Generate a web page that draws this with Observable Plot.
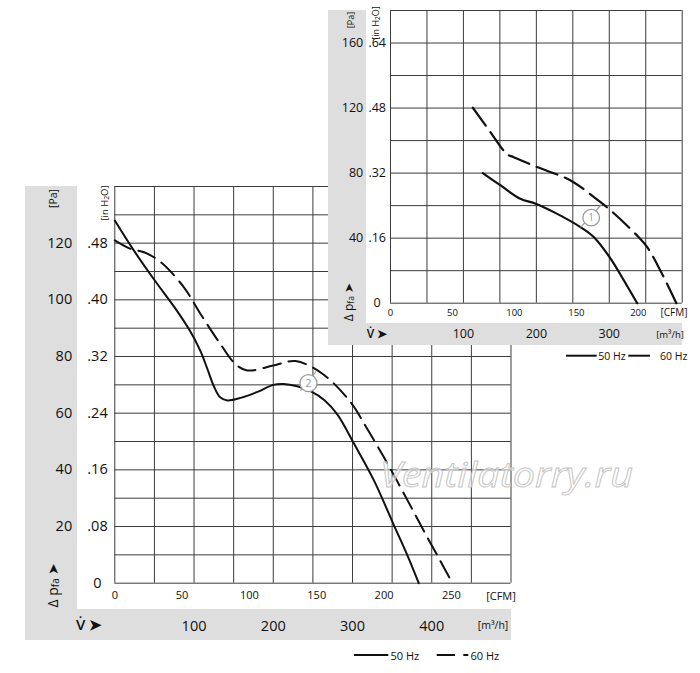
<!DOCTYPE html>
<html><head><meta charset="utf-8">
<script src="https://cdn.jsdelivr.net/npm/d3@7"></script>
<script src="https://cdn.jsdelivr.net/npm/@observablehq/plot@0.6"></script>
<style>
body{margin:0;background:#fff;}
#root{position:relative;width:700px;height:673px;overflow:hidden;font-family:"Open Sans",sans-serif;}
.box{position:absolute;}
</style></head><body><div id="root"></div>
<script>
const M3H_PER_CFM = 1.699;
const seriesNames = ["50 Hz", "60 Hz"];

// ---- main chart (big) : [flow m³/h, pressure Pa]
const main50 = [[0,128],[25,117],[50,107],[75,97.5],[95,89],[108,82],[117,75.5],[125,69.5],[133,65.6],[142,64.5],[160,65.5],[180,67.5],[200,70],[213,70.3],[230,69.5],[247,67.8],[265,64.5],[281,59.5],[302,49.2],[327,36.3],[352,20.6],[369,10],[383.6,0]];
const main60 = [[0,121],[20,118],[37,116.8],[58,113.3],[87,104.5],[108,95.1],[133,84.5],[152,77.4],[167,75.1],[200,76.8],[228,78.4],[262,73.9],[297.5,63.9],[318.5,54.5],[339.5,44.5],[356,36.2],[377,25.3],[394,16.4],[411,7.8],[426,0]];
const mainGridFlow = d3.range(0, 501, 50);
const mainGridPa = d3.range(0, 141, 10);
const mainPaTicks = [20, 40, 60, 80, 100, 120];
const mainInH2OTicks = [0, 20, 40, 60, 80, 100, 120];
const mainInH2OLabels = ["0", ".08", ".16", ".24", ".32", ".40", ".48"];
const mainCfmTicks = [0, 50, 100, 150, 200, 250];
const mainM3hTicks = [100, 200, 300, 400];
const mainBadge = [{label:"2", x:244.4, y:70.6, x1:234.4, y1:68.0, x2:253.9, y2:74.7}];

// ---- inset chart (small)
const inset50 = [[126.6,80],[151,72.4],[178,64.2],[199,61.2],[224,56],[260.5,46.8],[279,40.6],[302,27.3],[320,14],[338.3,0]];
const inset60 = [[112.9,120.2],[137,105.2],[153,95],[160,91.5],[169,89.8],[201,83.7],[247,75.5],[279,65.2],[302,57],[338,41.7],[352,34.5],[370,20.1],[392,0]];
const insetGridFlow = d3.range(0, 401, 50);
const insetGridPa = d3.range(0, 181, 20);
const insetPaTicks = [40, 80, 120, 160];
const insetInH2OTicks = [0, 40, 80, 120, 160];
const insetInH2OLabels = ["0", ".16", ".32", ".48", ".64"];
const insetCfmTicks = [0, 50, 100, 150, 200];
const insetM3hTicks = [100, 200, 300];
const insetBadge = [{label:"1", x:275.2, y:52.6, x1:260.6, y1:46.6, x2:289.4, y2:60.7}];

const root = document.getElementById("root");
const FONT = "Open Sans, sans-serif";
const GREY = "#dedede";

function box(x, y, w, h, color) {
  const d = document.createElement("div");
  d.className = "box";
  Object.assign(d.style, {left:x+"px", top:y+"px", width:w+"px", height:h+"px", background:color});
  root.appendChild(d);
}
function overlay() {
  return d3.select(root).append("svg").attr("width",700).attr("height",673)
    .style("position","absolute").style("left","0px").style("top","0px");
}
function label(s, x, y, parts, {size=11, rotate=0, anchor="middle", weight=400, fill="#111"}={}) {
  const t = s.append("text").attr("transform",`translate(${x},${y}) rotate(${rotate})`)
    .attr("text-anchor",anchor).attr("dominant-baseline","central")
    .attr("font-size",size).attr("font-family",FONT).attr("font-weight",weight).attr("fill",fill);
  for (const p of parts) {
    const sp = t.append("tspan").text(p.t);
    if (p.sub) sp.attr("font-size", size*0.72).attr("dy", size*0.22);
    if (p.back) sp.attr("dy", -size*0.22);
  }
  return t;
}
function chart(o) {
  return Plot.plot({
    width:700, height:673,
    marginLeft:o.ml, marginRight:o.mr, marginTop:o.mt, marginBottom:o.mb,
    x:{domain:o.xd}, y:{domain:o.yd},
    style:{background:"transparent", fontFamily:FONT, color:"#111"},
    marks:[
      Plot.ruleX(o.gx, {stroke:"#3c3c3c", strokeWidth:1}),
      Plot.ruleY(o.gy, {stroke:"#3c3c3c", strokeWidth:1}),
      Plot.line(o.s50, {x:d=>d[0], y:d=>d[1], curve:"catmull-rom", stroke:"#111", strokeWidth:o.lw}),
      Plot.line(o.s60, {x:d=>d[0], y:d=>d[1], curve:"catmull-rom", stroke:"#111", strokeWidth:o.lw, strokeDasharray:o.dash}),
      Plot.link(o.badge, {x1:"x1", y1:"y1", x2:"x2", y2:"y2", stroke:"#9a9a9a", strokeWidth:1.2}),
      Plot.dot(o.badge, {x:"x", y:"y", r:o.br, fill:"white", stroke:"#9a9a9a", strokeWidth:1.3}),
      Plot.text(o.badge, {x:"x", y:"y", text:"label", fill:"#9a9a9a", fontSize:o.bf}),
      Plot.axisY(o.pa, {anchor:"left", tickSize:0, tickPadding:o.paPad, fontSize:o.fs, label:null}),
      Plot.text(o.inh.map((v,i)=>({pa:v, t:o.inhL[i]})), {y:"pa", text:"t", frameAnchor:"left", dx:-o.inhPad, textAnchor:"middle", fontSize:o.fs}),
      Plot.axisX(o.cfm.map(c=>c*M3H_PER_CFM), {anchor:"bottom", tickSize:0, tickPadding:o.cfmPad, fontSize:o.cfs, label:null,
        tickFormat:d=>String(Math.round(d/M3H_PER_CFM))}),
      Plot.axisX(o.m3h, {anchor:"bottom", tickSize:0, tickPadding:o.m3hPad, fontSize:o.fs, label:null})
    ]
  });
}

// ---------- MAIN ----------
box(25, 186, 52, 454, GREY);
box(25, 609, 485.5, 31, GREY);
const mainSvg = chart({ml:114.3, mr:189.5, mt:186, mb:90.3, xd:[0,500], yd:[0,140],
  gx:mainGridFlow, gy:mainGridPa, s50:main50, s60:main60, lw:2, dash:"18,8",
  badge:mainBadge, br:8.5, bf:11,
  pa:mainPaTicks, paPad:42.6, fs:14.5, inh:mainInH2OTicks, inhL:mainInH2OLabels, inhPad:17.3,
  cfm:mainCfmTicks, cfmPad:8.4, cfs:11, m3h:mainM3hTicks, m3hPad:37.2});
Object.assign(mainSvg.style, {position:"absolute", left:"0px", top:"0px"});
root.appendChild(mainSvg);

const mo = overlay();
label(mo, 53.3, 198.5, [{t:"[Pa]"}], {size:10.5, rotate:-90});
label(mo, 103.5, 203, [{t:"[in H"},{t:"2",sub:true},{t:"O]",back:true}], {size:9.5, rotate:-90});
label(mo, 51.5, 585, [{t:"Δ p"},{t:"fa",sub:true},{t:" ➤",back:true}], {size:14, rotate:-90});
label(mo, 89, 624, [{t:"V̇ ➤"}], {size:15, weight:600});
label(mo, 501, 595, [{t:"[CFM]"}], {size:11});
label(mo, 493, 625, [{t:"[m³/h]"}], {size:10.5});
// legend
mo.append("line").attr("x1",354).attr("x2",388.3).attr("y1",655).attr("y2",655).attr("stroke","#111").attr("stroke-width",2);
label(mo, 390.5, 655, [{t:seriesNames[0]}], {size:11, anchor:"start"});
mo.append("line").attr("x1",436.7).attr("x2",468.3).attr("y1",655).attr("y2",655).attr("stroke","#111").attr("stroke-width",2).attr("stroke-dasharray","18.3,8.3");
label(mo, 470.5, 655, [{t:seriesNames[1]}], {size:11, anchor:"start"});
// watermark
mo.append("text").attr("x",380).attr("y",487).attr("font-family",FONT).attr("font-style","italic")
  .attr("font-size",35).attr("textLength",253).attr("lengthAdjust","spacingAndGlyphs")
  .attr("fill","white").attr("fill-opacity",0.55).attr("stroke","#c4c4c4").attr("stroke-width",0.9)
  .text("Ventilatorry.ru");

// ---------- INSET ----------
box(328, 10, 354, 335, "#ffffff");
box(328, 10, 38, 335, GREY);
box(328, 322.7, 354, 22.3, GREY);
const insetSvg = chart({ml:390, mr:18.3, mt:10, mb:370.3, xd:[0,400], yd:[0,180],
  gx:insetGridFlow, gy:insetGridPa, s50:inset50, s60:inset60, lw:2.2, dash:"22,8",
  badge:insetBadge, br:8.3, bf:10,
  pa:insetPaTicks, paPad:27.3, fs:12.5, inh:insetInH2OTicks, inhL:insetInH2OLabels, inhPad:13.3,
  cfm:insetCfmTicks, cfmPad:5.9, cfs:9.5, m3h:insetM3hTicks, m3hPad:25.9});
Object.assign(insetSvg.style, {position:"absolute", left:"0px", top:"0px"});
root.appendChild(insetSvg);

const io = overlay();
label(io, 350, 20, [{t:"[Pa]"}], {size:9, rotate:-90});
label(io, 375, 23, [{t:"[in H"},{t:"2",sub:true},{t:"O]",back:true}], {size:9, rotate:-90});
label(io, 348, 302, [{t:"Δ p"},{t:"fa",sub:true},{t:" ➤",back:true}], {size:12, rotate:-90});
label(io, 377, 333, [{t:"V̇ ➤"}], {size:12, weight:600});
label(io, 674, 312, [{t:"[CFM]"}], {size:10});
label(io, 670, 334, [{t:"[m³/h]"}], {size:9.5});
io.append("line").attr("x1",566).attr("x2",596.7).attr("y1",355.7).attr("y2",355.7).attr("stroke","#111").attr("stroke-width",2);
label(io, 598.3, 355.7, [{t:seriesNames[0]}], {size:10.5, anchor:"start"});
io.append("line").attr("x1",628.3).attr("x2",650).attr("y1",355.7).attr("y2",355.7).attr("stroke","#111").attr("stroke-width",2);
label(io, 660, 355.7, [{t:seriesNames[1]}], {size:10.5, anchor:"start"});
</script></body></html>
